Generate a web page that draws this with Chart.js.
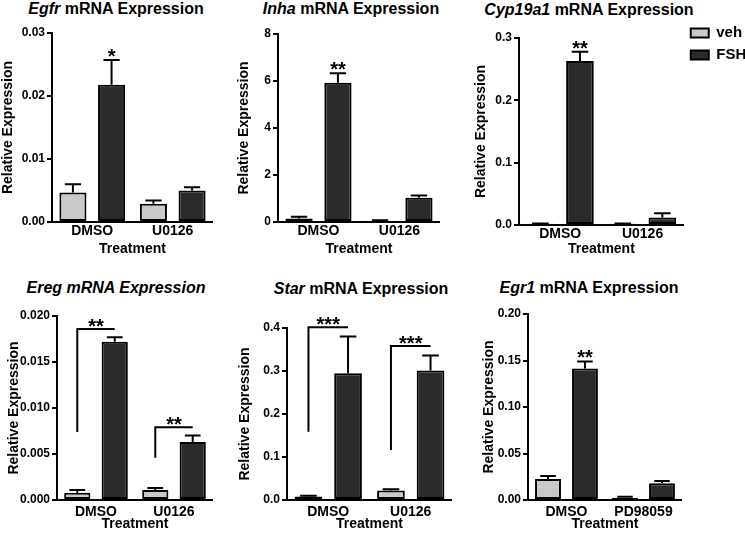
<!DOCTYPE html>
<html><head><meta charset="utf-8">
<script src="https://cdn.jsdelivr.net/npm/chart.js@4.4.0/dist/chart.umd.min.js"></script>
<style>
html,body{margin:0;padding:0;width:745px;height:533px;overflow:hidden;background:#fff;position:relative;}
canvas{position:absolute;}
.ttl{position:absolute;font-family:"Liberation Sans",Arial,sans-serif;font-weight:bold;font-size:16px;line-height:16px;white-space:nowrap;transform:translateX(-50%);color:#000;}
</style></head><body>
<div class="ttl" style="left:116px;top:1px"><i>Egfr</i> mRNA Expression</div>
<div class="ttl" style="left:351px;top:1px"><i>Inha</i> mRNA Expression</div>
<div class="ttl" style="left:589px;top:2px"><i>Cyp19a1</i> mRNA Expression</div>
<div class="ttl" style="left:116px;top:280px"><i>Ereg mRNA Expression</i></div>
<div class="ttl" style="left:361px;top:281px"><i>Star</i> mRNA Expression</div>
<div class="ttl" style="left:589px;top:280px"><i>Egr1</i> mRNA Expression</div>

<canvas id="c1" width="213" height="258" style="left:0px;top:0px"></canvas>
<canvas id="c2" width="204" height="258" style="left:236px;top:0px"></canvas>
<canvas id="c3" width="281" height="258" style="left:473px;top:0px"></canvas>
<canvas id="c4" width="207" height="263" style="left:6px;top:270px"></canvas>
<canvas id="c5" width="215" height="263" style="left:237px;top:270px"></canvas>
<canvas id="c6" width="201" height="263" style="left:481px;top:270px"></canvas>

<script>
// ---------- data ----------
const seriesNames = ['veh', 'FSH'];
const treatmentsU = ['DMSO', 'U0126'];
const treatmentsPD = ['DMSO', 'PD98059'];

const egfrVeh = [0.0047, 0.0029];
const egfrVehErr = [0.0013, 0.0005];
const egfrFsh = [0.0218, 0.0050];
const egfrFshErr = [0.0039, 0.0005];
const egfrSig = ['*', ''];
const egfrTicks = ['0.00', '0.01', '0.02', '0.03'];

const inhaVeh = [0.15, 0.05];
const inhaVehErr = [0.07, 0.02];
const inhaFsh = [5.93, 1.03];
const inhaFshErr = [0.40, 0.10];
const inhaSig = ['**', ''];
const inhaTicks = ['0', '2', '4', '6', '8'];

const cypVeh = [0.002, 0.002];
const cypVehErr = [0.0005, 0.0005];
const cypFsh = [0.263, 0.012];
const cypFshErr = [0.015, 0.007];
const cypSig = ['**', ''];
const cypTicks = ['0.0', '0.1', '0.2', '0.3'];

const eregVeh = [0.0008, 0.0011];
const eregVehErr = [0.0003, 0.0002];
const eregFsh = [0.0172, 0.0063];
const eregFshErr = [0.0005, 0.0007];
const eregSig = ['**', '**'];
const eregBracketTop = [0.0186, 0.0079];
const eregBracketBase = [0.0074, 0.0046];
const eregTicks = ['0.000', '0.005', '0.010', '0.015', '0.020'];

const starVeh = [0.008, 0.022];
const starVehErr = [0.002, 0.003];
const starFsh = [0.295, 0.301];
const starFshErr = [0.085, 0.035];
const starSig = ['***', '***'];
const starBracketTop = [0.402, 0.358];
const starBracketBase = [0.159, 0.116];
const starTicks = ['0.0', '0.1', '0.2', '0.3', '0.4'];

const egr1Veh = [0.0225, 0.0025];
const egr1VehErr = [0.0033, 0.0010];
const egr1Fsh = [0.1413, 0.018];
const egr1FshErr = [0.0077, 0.0025];
const egr1Sig = ['**', ''];
const egr1Ticks = ['0.00', '0.05', '0.10', '0.15', '0.20'];

// ---------- styling / layout ----------
const FONT = '"Liberation Sans", Arial, sans-serif';
Chart.defaults.font.family = FONT;
Chart.defaults.font.weight = 'bold';
Chart.defaults.color = '#000';
const VEH_COLOR = '#c9c9c9';
const FSH_COLOR = '#2b2b2b';

function annotPlugin(conf) {
  return {
    id: 'annot',
    afterDatasetsDraw(chart) {
      const ctx = chart.ctx, y = chart.scales.y;
      const metas = [chart.getDatasetMeta(0), chart.getDatasetMeta(1)];
      const vals = [conf.veh, conf.fsh], errs = [conf.vehErr, conf.fshErr];
      ctx.save();
      ctx.strokeStyle = '#000';
      ctx.lineWidth = 2;
      metas.forEach((m, di) => {
        m.data.forEach((bar, j) => {
          const top = y.getPixelForValue(vals[di][j] + errs[di][j]);
          const cap = bar.width * 0.3;
          ctx.beginPath();
          ctx.moveTo(bar.x, bar.y);
          ctx.lineTo(bar.x, top);
          ctx.moveTo(bar.x - cap, top);
          ctx.lineTo(bar.x + cap, top);
          ctx.stroke();
        });
      });
      ctx.fillStyle = '#000';
      ctx.font = 'bold 20px ' + FONT;
      ctx.textAlign = 'center';
      ctx.textBaseline = 'alphabetic';
      conf.sig.forEach((s, j) => {
        if (!s) return;
        const b0 = metas[0].data[j], b1 = metas[1].data[j];
        if (conf.brTop) {
          const yt = y.getPixelForValue(conf.brTop[j]);
          const yb = y.getPixelForValue(conf.brBase[j]);
          ctx.beginPath();
          ctx.moveTo(b0.x, yb);
          ctx.lineTo(b0.x, yt);
          ctx.lineTo(b1.x, yt);
          ctx.stroke();
          ctx.fillText(s, (b0.x + b1.x) / 2, yt + 4);
        } else {
          const yt = y.getPixelForValue(conf.fsh[j] + conf.fshErr[j]);
          ctx.fillText(s, b1.x, yt + 3);
        }
      });
      ctx.restore();
    }
  };
}

function makeChart(id, conf, geo) {
  const tickVals = conf.ticks.map(Number);
  const opts = {
    responsive: false,
    animation: false,
    devicePixelRatio: 1,
    layout: { padding: { top: geo.padTop, left: 0, right: 0, bottom: 0 } },
    plugins: {
      legend: { display: false },
      tooltip: { enabled: false },
      title: { display: false }
    },
    scales: {
      x: {
        offset: true,
        grid: { display: false, drawTicks: false },
        border: { display: true, color: '#000', width: 2 },
        ticks: { font: { size: 14, weight: 'bold' }, color: '#000', padding: geo.tickPad, maxRotation: 0 },
        title: { display: true, text: 'Treatment', font: { size: 14, weight: 'bold' }, color: '#000', padding: 0 },
        afterFit: (s) => { s.height = geo.xH; }
      },
      y: {
        min: 0,
        max: tickVals[tickVals.length - 1],
        afterBuildTicks: (s) => { s.ticks = tickVals.map(v => ({ value: v })); },
        grid: { display: true, drawOnChartArea: false, drawTicks: true, tickLength: 5, color: '#000', lineWidth: 2 },
        border: { display: true, color: '#000', width: 2 },
        ticks: { font: { size: 12, weight: 'bold' }, color: '#000', padding: 2,
                 callback: (v, i) => conf.ticks[i] },
        title: { display: true, text: 'Relative Expression', font: { size: 14, weight: 'bold' }, color: '#000', padding: 0 },
        afterFit: (s) => { s.width = geo.yW; }
      }
    }
  };
  if (geo.legend) {
    opts.plugins.legend = {
      display: true, position: 'right', align: 'start',
      labels: { boxWidth: 18, boxHeight: 9, padding: 7, color: '#000', font: { size: 15, weight: 'bold' } }
    };
    opts.plugins.title = { display: true, text: ' ', font: { size: 10 }, padding: { top: 4, bottom: 3.5 } };
  }
  return new Chart(document.getElementById(id), {
    type: 'bar',
    data: {
      labels: conf.cats,
      datasets: [
        { label: seriesNames[0], data: conf.veh, backgroundColor: VEH_COLOR, borderColor: '#000', borderWidth: 2,
          borderSkipped: false, categoryPercentage: 0.96, barPercentage: 0.7 },
        { label: seriesNames[1], data: conf.fsh, backgroundColor: FSH_COLOR, borderColor: '#000', borderWidth: 2,
          borderSkipped: false, categoryPercentage: 0.96, barPercentage: 0.7 }
      ]
    },
    options: opts,
    plugins: [annotPlugin(conf)]
  });
}

makeChart('c1', { cats: treatmentsU, veh: egfrVeh, vehErr: egfrVehErr, fsh: egfrFsh, fshErr: egfrFshErr, sig: egfrSig, ticks: egfrTicks },
  { yW: 52, xH: 36, padTop: 33, tickPad: 1 });
makeChart('c2', { cats: treatmentsU, veh: inhaVeh, vehErr: inhaVehErr, fsh: inhaFsh, fshErr: inhaFshErr, sig: inhaSig, ticks: inhaTicks },
  { yW: 42, xH: 36, padTop: 34, tickPad: 1 });
makeChart('c3', { cats: treatmentsU, veh: cypVeh, vehErr: cypVehErr, fsh: cypFsh, fshErr: cypFshErr, sig: cypSig, ticks: cypTicks },
  { yW: 46, xH: 33, padTop: 18.5, tickPad: 1, legend: true });
makeChart('c4', { cats: treatmentsU, veh: eregVeh, vehErr: eregVehErr, fsh: eregFsh, fshErr: eregFshErr, sig: eregSig, ticks: eregTicks,
  brTop: eregBracketTop, brBase: eregBracketBase },
  { yW: 51, xH: 33, padTop: 46, tickPad: 4 });
makeChart('c5', { cats: treatmentsU, veh: starVeh, vehErr: starVehErr, fsh: starFsh, fshErr: starFshErr, sig: starSig, ticks: starTicks,
  brTop: starBracketTop, brBase: starBracketBase },
  { yW: 50, xH: 33, padTop: 58, tickPad: 4 });
makeChart('c6', { cats: treatmentsPD, veh: egr1Veh, vehErr: egr1VehErr, fsh: egr1Fsh, fshErr: egr1FshErr, sig: egr1Sig, ticks: egr1Ticks },
  { yW: 47, xH: 33, padTop: 44, tickPad: 4 });
</script>
</body></html>
